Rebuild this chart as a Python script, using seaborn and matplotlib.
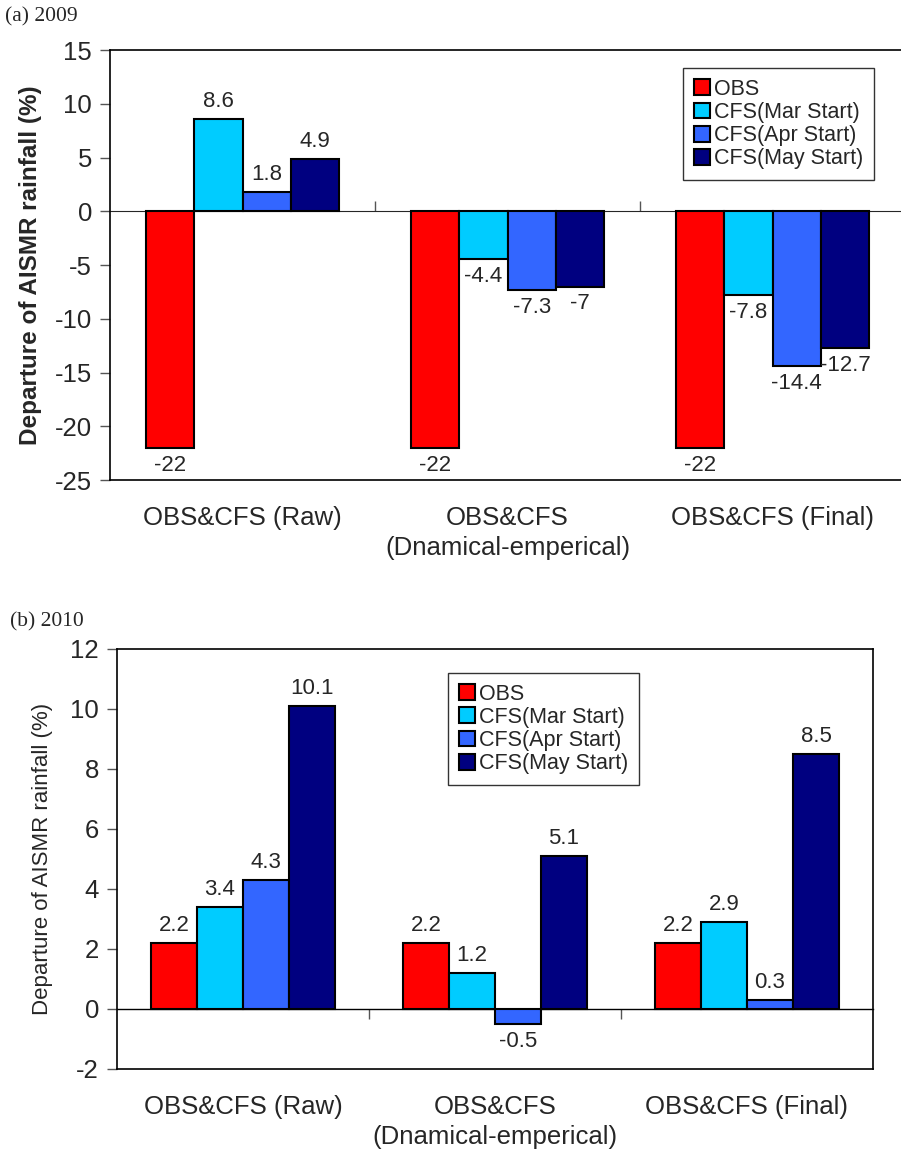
import matplotlib
matplotlib.use("Agg")
import matplotlib.pyplot as plt
import seaborn as sns
import pandas as pd

# categories / series
groups = ['OBS&CFS (Raw)', 'OBS&CFS\n(Dnamical-emperical)', 'OBS&CFS (Final)']
series = ['OBS', 'CFS(Mar Start)', 'CFS(Apr Start)', 'CFS(May Start)']
colors = ['#FF0000', '#00CCFF', '#3366FF', '#000080']

# (a) 2009
a_obs = [-22, -22, -22]
a_mar = [8.6, -4.4, -7.8]
a_apr = [1.8, -7.3, -14.4]
a_may = [4.9, -7, -12.7]

# (b) 2010
b_obs = [2.2, 2.2, 2.2]
b_mar = [3.4, 1.2, 2.9]
b_apr = [4.3, -0.5, 0.3]
b_may = [10.1, 5.1, 8.5]

a_ticks = [-25, -20, -15, -10, -5, 0, 5, 10, 15]
b_ticks = [-2, 0, 2, 4, 6, 8, 10, 12]


def long_df(obs, mar, apr, may):
    rows = []
    for s, vals in zip(series, [obs, mar, apr, may]):
        for g, v in zip(groups, vals):
            rows.append({'group': g, 'series': s, 'value': v})
    return pd.DataFrame(rows)


sns.set_style('white')
plt.rcParams['font.family'] = ['Liberation Sans', 'DejaVu Sans']
plt.rcParams['axes.unicode_minus'] = False

fig = plt.figure(figsize=(9.01, 11.55), dpi=100)
ax_a = fig.add_axes([0.1221, 0.5844, 0.8824, 0.3723])
ax_b = fig.add_axes([0.1299, 0.0745, 0.8390, 0.3636])


def draw(ax, df, ticks, ylabel, bold, ylab_size, leg_anchor, ylab_x):
    sns.barplot(data=df, x='group', y='value', hue='series', order=groups,
                hue_order=series, palette=colors, width=0.73, gap=0,
                edgecolor='black', linewidth=1.5, saturation=1, ax=ax,
                errorbar=None)
    for c in ax.containers:
        ax.bar_label(c, fmt='%g', padding=5, fontsize=16)
    ax.set_ylim(ticks[0], ticks[-1])
    ax.set_yticks(ticks)
    ax.set_xlim(-0.5, 2.5)
    ax.set_xlabel('')
    ax.set_ylabel(ylabel, fontsize=ylab_size,
                  fontweight='bold' if bold else 'normal')
    ax.yaxis.set_label_coords(ylab_x, 0.5)
    ax.tick_params(axis='y', labelsize=18.5, length=7, width=1, color='#555555',
                   direction='out', left=True, pad=6)
    ax.tick_params(axis='x', labelsize=18.5, length=0, pad=19)
    for lab in ax.get_xticklabels():
        lab.set_linespacing(1.3)
    for sp in ax.spines.values():
        sp.set_visible(True)
        sp.set_color('black')
        sp.set_linewidth(1.2)
    # zero line with category separators, as on the original
    zfrac = (0 - ticks[0]) / (ticks[-1] - ticks[0])
    sec = ax.secondary_xaxis(zfrac)
    sec.set_xticks([0.5, 1.5])
    sec.set_xticklabels(['', ''])
    sec.tick_params(length=7, width=1, color='#555555', direction='out')
    sec.spines['bottom'].set_linewidth(1)
    sec.spines['bottom'].set_color('black')
    leg = ax.legend(loc='upper left', bbox_to_anchor=leg_anchor, fontsize=15.5,
                    frameon=True, fancybox=False, edgecolor='black',
                    handlelength=0.75, handleheight=0.75, handletextpad=0.2,
                    labelspacing=0.1, borderpad=0.5, borderaxespad=0)
    leg.get_frame().set_linewidth(1)
    for h in leg.legend_handles:
        h.set_edgecolor('black')
        h.set_linewidth(1.5)


draw(ax_a, long_df(a_obs, a_mar, a_apr, a_may), a_ticks,
     'Departure of AISMR rainfall (%)', True, 17.5, (0.721, 0.958), -0.086)
draw(ax_b, long_df(b_obs, b_mar, b_apr, b_may), b_ticks,
     'Departure of AISMR rainfall (%)', False, 16, (0.438, 0.943), -0.085)

fig.text(0.005, 0.985, '(a) 2009', fontsize=15.5, family='Liberation Serif',
         va='center', ha='left')
fig.text(0.011, 0.462, '(b) 2010', fontsize=15.5, family='Liberation Serif',
         va='center', ha='left')

fig.savefig('out.png', dpi=100)
